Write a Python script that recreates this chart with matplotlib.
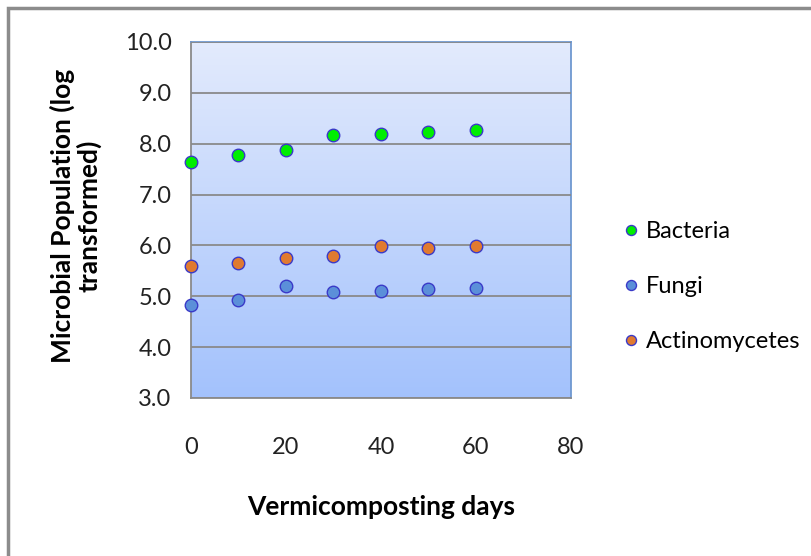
import numpy as np
import matplotlib.pyplot as plt
from matplotlib.patches import Rectangle

days = [0, 10, 20, 30, 40, 50, 60]
bacteria = [7.65, 7.78, 7.88, 8.18, 8.19, 8.23, 8.27]
fungi = [4.83, 4.93, 5.20, 5.08, 5.11, 5.14, 5.17]
actino = [5.60, 5.65, 5.75, 5.79, 5.98, 5.94, 5.98]

series = [("Bacteria", bacteria, "#00ee00"),
          ("Fungi", fungi, "#5b8fd9"),
          ("Actinomycetes", actino, "#e07a30")]

plt.rcParams['font.family'] = ['Lato', 'DejaVu Sans']

fig = plt.figure(figsize=(8.12, 5.56), dpi=100)
ax = fig.add_axes([191/812, 1 - 398/556, 380/812, 356/556])

# outer frame of the chart
fig.patches.append(Rectangle((8/812, -0.1), 1.2, 1 - 8/556 + 0.1, transform=fig.transFigure,
                             fill=False, edgecolor="#8c8c8c", linewidth=2.5))

# gradient fill of the plot area
grad = np.linspace(0, 1, 256).reshape(-1, 1)
top = np.array([0.89, 0.92, 0.99])
bottom = np.array([0.64, 0.76, 0.99])
img = top * (1 - grad[..., None]) + bottom * grad[..., None]
ax.imshow(img, extent=[0, 1, 0, 1], transform=ax.transAxes, aspect="auto", zorder=0)

for name, vals, col in series:
    ax.plot(days, vals, "o", color=col, markeredgecolor="#3a3ac8", markeredgewidth=1.0,
            markersize=9, label=name, zorder=3, clip_on=False)

ax.set_xlim(0, 80)
ax.set_ylim(3, 10)
ax.set_xticks([0, 20, 40, 60, 80])
ax.set_yticks(np.arange(3, 10.01, 1))
ax.set_yticklabels([f"{v:.1f}" for v in np.arange(3, 10.01, 1)])
ax.tick_params(length=0, labelsize=17, colors="#222222")
ax.tick_params(axis="y", pad=14)
ax.tick_params(axis="x", pad=28)
ax.grid(axis="y", color="#8a8a8a", linewidth=1.3, zorder=1)
ax.set_axisbelow(False)
for s in ["left", "bottom"]:
    ax.spines[s].set_color("#8a8a8a")
    ax.spines[s].set_linewidth(1.3)
for s in ["top", "right"]:
    ax.spines[s].set_color("#6f98d0")
    ax.spines[s].set_linewidth(1.3)

fig.text(381/812, 1 - 507/556, "Vermicomposting days", fontsize=19, fontweight="bold",
         ha="center", va="center")
fig.text(76/812, 1 - 216/556, "Microbial Population (log\ntransformed)", fontsize=19,
         fontweight="bold", rotation=90, ha="center", va="center", multialignment="center",
         linespacing=1.05)

ax.legend(loc="center left", bbox_to_anchor=(1.072, 0.313), frameon=False, fontsize=17,
          labelspacing=1.45, handletextpad=0.1, handlelength=1.0, markerscale=0.8)

fig.savefig("out.png", dpi=100)
